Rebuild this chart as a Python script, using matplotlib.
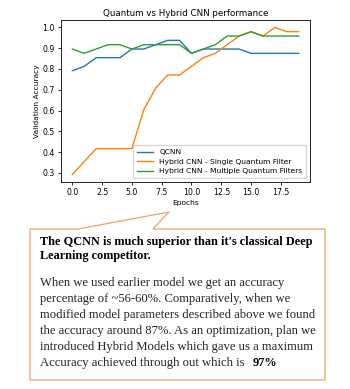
import matplotlib
matplotlib.use('Agg')
import matplotlib.pyplot as plt
import matplotlib.patches as patches

epochs = list(range(20))
qcnn = [0.7917, 0.8125, 0.8542, 0.8542, 0.8542, 0.8958, 0.8958, 0.9167, 0.9375, 0.9375,
        0.875, 0.8958, 0.8958, 0.8958, 0.8958, 0.875, 0.875, 0.875, 0.875, 0.875]
hybrid_single = [0.2917, 0.3542, 0.4167, 0.4167, 0.4167, 0.4167, 0.6042, 0.7083, 0.7708, 0.7708,
                 0.8125, 0.8542, 0.875, 0.9167, 0.9583, 0.9792, 0.9583, 1.0, 0.9792, 0.9792]
hybrid_multi = [0.8958, 0.875, 0.8958, 0.9167, 0.9167, 0.8958, 0.9167, 0.9167, 0.9167, 0.9167,
                0.875, 0.8958, 0.9167, 0.9583, 0.9583, 0.9792, 0.9583, 0.9583, 0.9583, 0.9583]
labels = ['QCNN', 'Hybrid CNN - Single Quantum Filter', 'Hybrid CNN - Multiple Quantum Filters']

heading = ["The QCNN is much superior than it's classical Deep",
           "Learning competitor."]
body = ["When we used earlier model we get an accuracy",
        "percentage of ~56-60%. Comparatively, when we",
        "modified model parameters described above we found",
        "the accuracy around 87%. As an optimization, plan we",
        "introduced Hybrid Models which gave us a maximum",
        "Accuracy achieved through out which is"]
highlight = "97%"

W, H = 350, 389
fig = plt.figure(figsize=(W / 100, H / 100), dpi=100)
ax = fig.add_axes([61 / W, 1 - 182 / H, (310 - 61) / W, (182 - 20) / H])

for series, lab in zip([qcnn, hybrid_single, hybrid_multi], labels):
    ax.plot(epochs, series, label=lab, linewidth=1.0)

ax.set_title('Quantum vs Hybrid CNN performance', fontsize=6.3, pad=3)
ax.set_xlabel('Epochs', fontsize=5.4, labelpad=2)
ax.set_ylabel('Validation Accuracy', fontsize=5.4, labelpad=2)
ax.tick_params(labelsize=5.6, length=2.5, width=0.6, pad=2)
for sp in ax.spines.values():
    sp.set_linewidth(0.6)
ax.legend(loc='lower right', fontsize=5.4, handlelength=2.2, borderpad=0.5,
          labelspacing=0.45, framealpha=0.8)


def px(x, y):
    return (x / W, 1 - y / H)


# callout box
verts = [px(30, 229), px(78, 229), px(169, 212), px(153, 229),
         px(325, 229), px(325, 380), px(30, 380)]
box = patches.Polygon(verts, closed=True, facecolor='white', edgecolor='#F3A06A',
                      linewidth=0.9, transform=fig.transFigure)
fig.patches.append(box)

font = 'Liberation Serif'
y = 242
for line in heading:
    fig.text(40 / W, 1 - y / H, line, fontsize=8.8, fontweight='bold', family=font,
             va='center', ha='left')
    y += 14
y = 283
last = None
for line in body:
    last = fig.text(40 / W, 1 - y / H, line, fontsize=9.1, family=font,
                    va='center', ha='left', color='#222222')
    y += 16

fig.canvas.draw()
bb = last.get_window_extent()
fig.text((bb.x1 + 8) / W, 1 - (y - 16) / H, highlight, fontsize=8.8, fontweight='bold',
         family=font, va='center', ha='left')

fig.savefig('out.png', dpi=100)
